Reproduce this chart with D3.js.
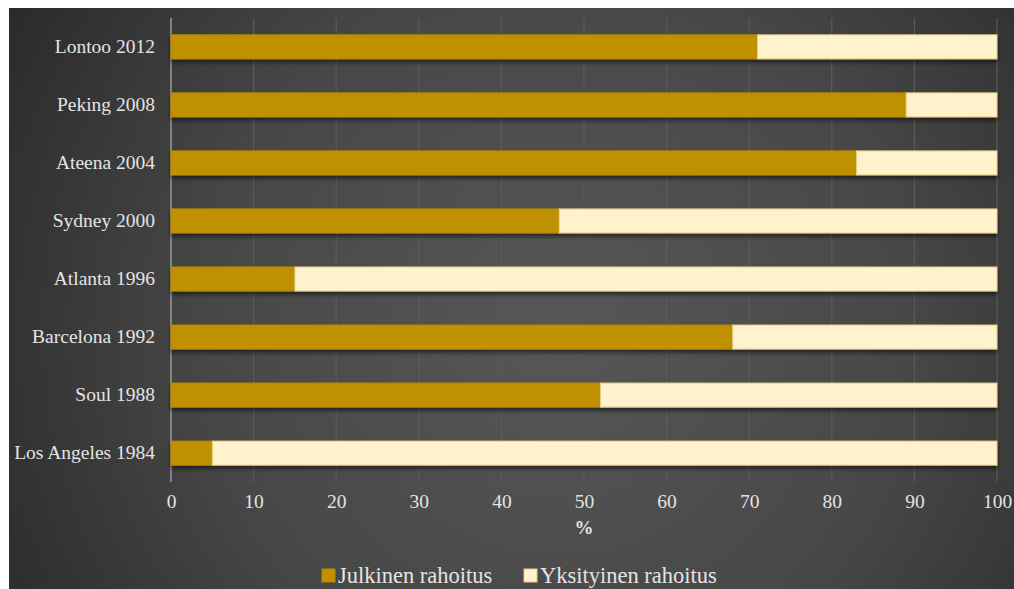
<!DOCTYPE html>
<html>
<head>
<meta charset="utf-8">
<script src="https://cdn.jsdelivr.net/npm/d3@7/dist/d3.min.js"></script>
<style>
  html, body { margin: 0; padding: 0; background: #fff; }
  svg { display: block; }
  text { font-family: "Liberation Serif", "Times New Roman", Tinos, serif; }
</style>
</head>
<body>
<svg id="chart" width="1014" height="589"></svg>
<script>
const categories = [
  "Lontoo 2012", "Peking 2008", "Ateena 2004", "Sydney 2000",
  "Atlanta 1996", "Barcelona 1992", "Soul 1988", "Los Angeles 1984"
];
const publicShare = [71, 89, 83, 47, 15, 68, 52, 5];
const privateShare = publicShare.map((v) => 100 - v);
const seriesNames = ["Julkinen rahoitus", "Yksityinen rahoitus"];
const xTicks = [0, 10, 20, 30, 40, 50, 60, 70, 80, 90, 100];

const colors = ["#bf9000", "#fff2cc"];
const strokes = ["#b88a00", "#e3cf7f"];
const textColor = "#e4e4e4";

const svg = d3.select("#chart");
const defs = svg.append("defs");

const bg = defs.append("radialGradient")
  .attr("id", "bg")
  .attr("gradientUnits", "userSpaceOnUse")
  .attr("cx", 560).attr("cy", 330).attr("r", 640);
bg.append("stop").attr("offset", "0%").attr("stop-color", "#575757");
bg.append("stop").attr("offset", "55%").attr("stop-color", "#474747");
bg.append("stop").attr("offset", "100%").attr("stop-color", "#2a2a2a");

const shadow = defs.append("filter").attr("id", "shadow")
  .attr("x", "-5%").attr("y", "-30%").attr("width", "110%").attr("height", "190%");
shadow.append("feDropShadow")
  .attr("dx", 0).attr("dy", 3).attr("stdDeviation", 2.2)
  .attr("flood-color", "#000").attr("flood-opacity", 0.55);

svg.append("rect")
  .attr("x", 9).attr("y", 8).attr("width", 1005).attr("height", 581)
  .attr("fill", "url(#bg)");

const plot = { left: 171, right: 997, top: 18, bottom: 482 };

const x = d3.scaleLinear().domain([0, 100]).range([plot.left, plot.right]);
const y = d3.scaleBand().domain(categories).range([plot.top, plot.bottom]).paddingInner(0.585).paddingOuter(0.29);

// gridlines
svg.append("g")
  .selectAll("line")
  .data(xTicks)
  .join("line")
  .attr("x1", (d) => x(d)).attr("x2", (d) => x(d))
  .attr("y1", plot.top).attr("y2", plot.bottom)
  .attr("stroke", (d) => (d === 0 ? "#9a9a9a" : "#5a5a5a"))
  .attr("stroke-width", (d) => (d === 0 ? 1.5 : 1.2));

// stacked bars
const rows = categories.map((c, i) => ({ category: c, values: [publicShare[i], privateShare[i]] }));
const stacked = d3.stack().keys([0, 1]).value((d, k) => d.values[k])(rows);

const barGroup = svg.append("g").attr("filter", "url(#shadow)");
barGroup.selectAll("g.series")
  .data(stacked)
  .join("g")
  .attr("class", "series")
  .attr("fill", (d, i) => colors[i])
  .attr("stroke", (d, i) => strokes[i])
  .selectAll("rect")
  .data((d) => d)
  .join("rect")
  .attr("x", (d) => x(d[0]))
  .attr("y", (d) => y(d.data.category))
  .attr("width", (d) => x(d[1]) - x(d[0]))
  .attr("height", y.bandwidth())
  .attr("stroke-width", 1);

// category labels
const yAxis = svg.append("g")
  .attr("transform", `translate(${plot.left},0)`)
  .call(d3.axisLeft(y).tickSize(0).tickPadding(16));
yAxis.attr("font-family", null);
yAxis.select(".domain").remove();
yAxis.selectAll("text")
  .attr("fill", textColor)
  .style("font-size", "19.5px");

// value axis
const xAxis = svg.append("g")
  .attr("transform", `translate(0,${plot.bottom})`)
  .call(d3.axisBottom(x).tickValues(xTicks).tickSize(0).tickPadding(12));
xAxis.attr("font-family", null);
xAxis.select(".domain").remove();
xAxis.selectAll("text")
  .attr("fill", textColor)
  .style("font-size", "19.5px");

svg.append("text")
  .attr("x", x(50)).attr("y", 534)
  .attr("text-anchor", "middle")
  .attr("fill", textColor)
  .style("font-size", "19px")
  .attr("font-weight", "bold")
  .text("%");

// legend
const legendItems = [
  { name: seriesNames[0], x: 322, color: colors[0], stroke: strokes[0] },
  { name: seriesNames[1], x: 524, color: colors[1], stroke: strokes[1] }
];
const legend = svg.append("g").selectAll("g").data(legendItems).join("g")
  .attr("transform", (d) => `translate(${d.x},569)`);
legend.append("rect")
  .attr("width", 13).attr("height", 13)
  .attr("fill", (d) => d.color)
  .attr("stroke", (d) => d.stroke);
legend.append("text")
  .attr("x", 16).attr("y", 14)
  .attr("fill", textColor)
  .style("font-size", "22.5px")
  .text((d) => d.name);
</script>
</body>
</html>
